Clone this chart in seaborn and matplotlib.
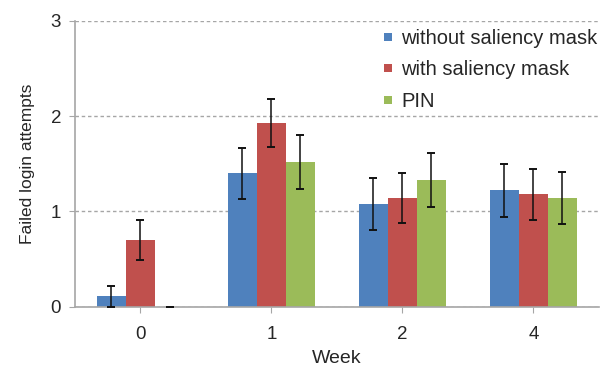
import matplotlib
matplotlib.use("Agg")
import matplotlib.pyplot as plt
from matplotlib.lines import Line2D
import seaborn as sns
import pandas as pd
import numpy as np

weeks = ["0", "1", "2", "4"]
conditions = ["without saliency mask", "with saliency mask", "PIN"]
without_mask = [0.11, 1.40, 1.08, 1.22]
with_mask = [0.70, 1.93, 1.14, 1.18]
pin = [0.0, 1.52, 1.33, 1.14]
without_mask_err = [0.11, 0.27, 0.27, 0.275]
with_mask_err = [0.21, 0.25, 0.265, 0.267]
pin_err = [0.0, 0.28, 0.28, 0.27]
colors = ["#4F81BD", "#C0504D", "#9BBB59"]

means = [without_mask, with_mask, pin]
errs = [without_mask_err, with_mask_err, pin_err]
df = pd.DataFrame({
    "Week": weeks * 3,
    "Condition": np.repeat(conditions, len(weeks)),
    "Failed": sum(means, []),
    "Err": sum(errs, []),
})

sns.set_style("white")
plt.rcParams["font.family"] = ["Liberation Sans", "DejaVu Sans"]

fig = plt.figure(figsize=(6, 3.68), dpi=100)
ax = fig.add_axes([0.125, 0.166, 0.873, 0.778])

sns.barplot(data=df, x="Week", y="Failed", hue="Condition", order=weeks,
            hue_order=conditions, palette=colors, errorbar=None,
            width=0.665, saturation=1, linewidth=0, ax=ax, zorder=2,
            legend=False)

# error bars at the centre of each drawn bar
for i, cond in enumerate(conditions):
    sub = df[df["Condition"] == cond].set_index("Week").loc[weeks]
    for j, w in enumerate(weeks):
        patch = ax.containers[i][j]
        xc = patch.get_x() + patch.get_width() / 2
        ax.errorbar(xc, sub.loc[w, "Failed"], yerr=sub.loc[w, "Err"],
                    fmt="none", ecolor="#111111", elinewidth=1.1,
                    capsize=3.2, capthick=1.4, zorder=3)

ax.set_ylim(0, 3)
ax.set_xlim(-0.5, 3.5)
ax.set_yticks([0, 1, 2, 3])
ax.yaxis.grid(True, linestyle=(0, (2.5, 2)), color="#A6A6A6", linewidth=1)
ax.set_axisbelow(True)
for s in ["top", "right"]:
    ax.spines[s].set_visible(False)
for s in ["left", "bottom"]:
    ax.spines[s].set_color("#A6A6A6")
    ax.spines[s].set_linewidth(1.2)
ax.tick_params(axis="both", which="both", direction="out", length=4,
               color="#A6A6A6", labelsize=13.5, left=True, bottom=True)
ax.tick_params(axis="x", pad=10)
ax.tick_params(axis="y", pad=6)
ax.set_ylabel("Failed login attempts", fontsize=12.5, labelpad=11)
ax.set_xlabel("Week", fontsize=14, labelpad=5)

handles = [Line2D([], [], linestyle="none", marker="s", markersize=5.5,
                  markerfacecolor=c, markeredgewidth=0) for c in colors]
ax.legend(handles, conditions, loc="upper left",
          bbox_to_anchor=(382 / 600, 1 - 29 / 368),
          bbox_transform=fig.transFigure, frameon=False, borderpad=0,
          borderaxespad=0, fontsize=14.5, handlelength=0.6,
          handletextpad=0.35, labelspacing=0.62)

fig.savefig("out.png", dpi=100)
